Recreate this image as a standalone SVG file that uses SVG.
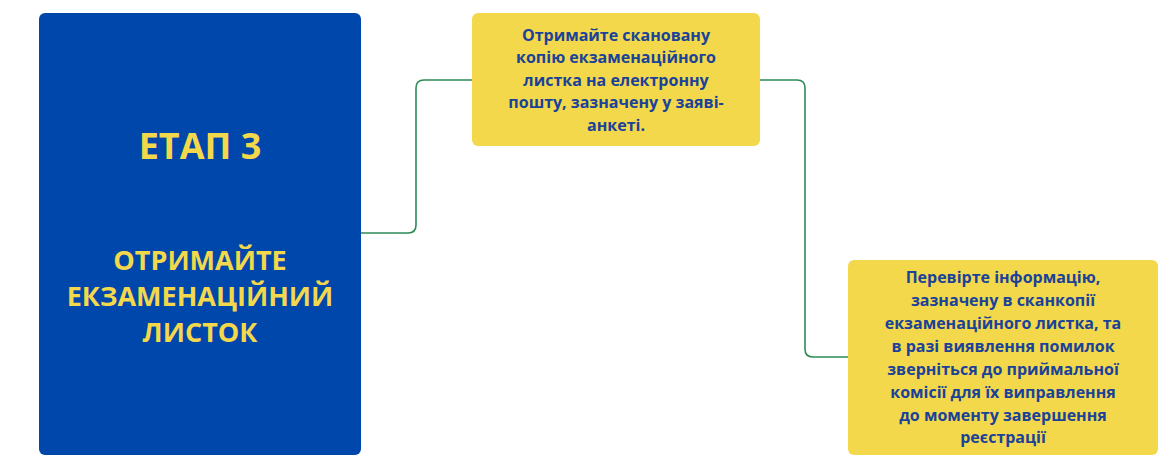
<svg xmlns="http://www.w3.org/2000/svg" width="1175" height="469" viewBox="0 0 1175 469">
<style>
.n{fill:#F3D84B;}
.t{font-family:"Open Sans","Liberation Sans",sans-serif;font-weight:bold;fill:#1A4299;font-size:16px;text-anchor:middle;}
.h{font-family:"Open Sans","Liberation Sans",sans-serif;font-weight:bold;fill:#F3D84B;text-anchor:middle;}
.c{fill:none;stroke:#2E8B57;stroke-width:1.6;}
</style>
<rect width="1175" height="469" fill="#fff"/>
<g id="connectors">
<path class="c" d="M361,233 H408 Q416,233 416,225 V88 Q416,80 424,80 H472"/>
<path class="c" d="M760,80 H797 Q805,80 805,88 V349 Q805,357 813,357 H848"/>
</g>
<g id="stage">
<rect x="39" y="13" width="322" height="442" rx="6" fill="#0047AB"/>
<text class="h" x="200" y="159" font-size="36">ЕТАП 3</text>
<text class="h" x="200" y="270" font-size="27">ОТРИМАЙТЕ</text>
<text class="h" x="200" y="306" font-size="27">ЕКЗАМЕНАЦІЙНИЙ</text>
<text class="h" x="200" y="342" font-size="27">ЛИСТОК</text>
</g>
<g id="step1">
<rect class="n" x="472" y="13" width="288" height="133" rx="6"/>
<text class="t" x="616" y="41">Отримайте скановану</text>
<text class="t" x="616" y="63">копію екзаменаційного</text>
<text class="t" x="616" y="86">листка на електронну</text>
<text class="t" x="616" y="108">пошту, зазначену у заяві-</text>
<text class="t" x="616" y="131">анкеті.</text>
</g>
<g id="step2">
<rect class="n" x="848" y="260" width="310" height="195" rx="6"/>
<text class="t" x="1003" y="283">Перевірте інформацію,</text>
<text class="t" x="1003" y="306">зазначену в сканкопії</text>
<text class="t" x="1003" y="329">екзаменаційного листка, та</text>
<text class="t" x="1003" y="352">в разі виявлення помилок</text>
<text class="t" x="1003" y="375">зверніться до приймальної</text>
<text class="t" x="1003" y="398">комісії для їх виправлення</text>
<text class="t" x="1003" y="421">до моменту завершення</text>
<text class="t" x="1003" y="443">реєстрації</text>
</g>
</svg>
